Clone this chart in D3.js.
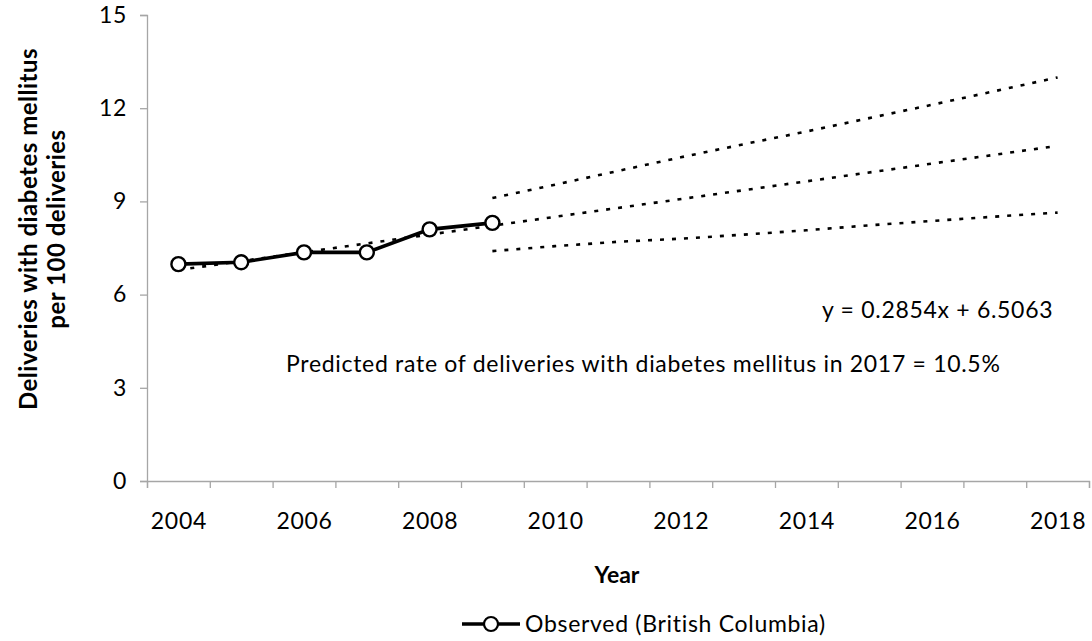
<!DOCTYPE html>
<html>
<head>
<meta charset="utf-8">
<script src="https://cdn.jsdelivr.net/npm/d3@7"></script>
<style>
  html, body { margin: 0; padding: 0; background: #fff; }
  svg { display: block; }
  text { font-family: Lato, "Open Sans", sans-serif; fill: #000; }
</style>
</head>
<body>
<svg id="chart" width="1092" height="641"></svg>
<script>
// ---- data ----
const observedYears = [2004, 2005, 2006, 2007, 2008, 2009];
const observedValues = [6.98, 7.04, 7.36, 7.36, 8.10, 8.31];

const forecastYears = [2009, 2010, 2011, 2012, 2013, 2014, 2015, 2016, 2017, 2018];
const upperValues = [9.11, 9.54, 9.98, 10.42, 10.84, 11.25, 11.68, 12.11, 12.55, 12.99];
const lowerValues = [7.40, 7.56, 7.70, 7.80, 7.93, 8.07, 8.23, 8.37, 8.51, 8.64];

const trendSlope = 0.2854;
const trendIntercept = 6.5063;
const trendYears = [2004, 2018];

const yTicks = [0, 3, 6, 9, 12, 15];
const xLabelYears = [2004, 2006, 2008, 2010, 2012, 2014, 2016, 2018];

const yTitleLines = ["Deliveries with diabetes mellitus", "per 100 deliveries"];
const xTitle = "Year";
const equationText = "y = 0.2854x + 6.5063";
const predictionText = "Predicted rate of deliveries with diabetes mellitus in 2017 = 10.5%";
const legendLabel = "Observed (British Columbia)";

// ---- layout ----
const svg = d3.select("#chart");
const plot = { left: 147, right: 1089, top: 15, bottom: 481 };
const axisColor = "#a6a6a6";
const fontSize = 23;
const spacing = 0.7;

const x = d3.scaleLinear().domain([2003.5, 2018.5]).range([plot.left, plot.right]);
const y = d3.scaleLinear().domain([0, 15]).range([plot.bottom, plot.top]);

// y axis
const yAxis = svg.append("g")
  .attr("transform", `translate(${plot.left},0)`)
  .call(d3.axisLeft(y).tickValues(yTicks).tickSize(7).tickPadding(13).tickFormat(d3.format("d")));
yAxis.select(".domain").attr("stroke", axisColor).attr("stroke-width", 1.3);
yAxis.selectAll(".tick line").attr("stroke", axisColor).attr("stroke-width", 1.3);
yAxis.selectAll(".tick text").attr("font-size", fontSize).attr("font-family", "Lato, sans-serif")
  .attr("fill", "#000").attr("letter-spacing", spacing);

// x axis: ticks on category boundaries
const boundaries = d3.range(2003.5, 2019, 1);
const xAxis = svg.append("g")
  .attr("transform", `translate(0,${plot.bottom})`)
  .call(d3.axisBottom(x).tickValues(boundaries).tickSize(7).tickFormat(""));
xAxis.select(".domain").attr("stroke", axisColor).attr("stroke-width", 1.3);
xAxis.selectAll(".tick line").attr("stroke", axisColor).attr("stroke-width", 1.3);

const xLabels = svg.append("g")
  .attr("transform", `translate(0,${plot.bottom})`)
  .call(d3.axisBottom(x).tickValues(xLabelYears).tickSize(0).tickPadding(32).tickFormat(d3.format("d")));
xLabels.select(".domain").remove();
xLabels.selectAll(".tick text").attr("font-size", fontSize).attr("font-family", "Lato, sans-serif")
  .attr("fill", "#000").attr("letter-spacing", spacing);

// dotted lines
const line = d3.line().x(d => x(d[0])).y(d => y(d[1]));
function dottedPath(pts) {
  svg.append("path")
    .attr("d", line(pts))
    .attr("fill", "none")
    .attr("stroke", "#000")
    .attr("stroke-width", 2.6)
    .attr("stroke-dasharray", "4,8");
}

const trendPts = trendYears.map(yr => [yr, trendSlope * (yr - 2003) + trendIntercept]);
dottedPath(trendPts);
dottedPath(forecastYears.map((yr, i) => [yr, upperValues[i]]));
dottedPath(forecastYears.map((yr, i) => [yr, lowerValues[i]]));

// observed line
const obsPts = observedYears.map((yr, i) => [yr, observedValues[i]]);
svg.append("path")
  .attr("d", line(obsPts))
  .attr("fill", "none")
  .attr("stroke", "#000")
  .attr("stroke-width", 3.6);
svg.append("g").selectAll("circle").data(obsPts).join("circle")
  .attr("cx", d => x(d[0])).attr("cy", d => y(d[1]))
  .attr("r", 7).attr("fill", "#fff").attr("stroke", "#000").attr("stroke-width", 2.4);

// annotations
svg.append("text").attr("x", 822).attr("y", 318)
  .attr("font-size", fontSize).attr("letter-spacing", spacing).text(equationText);
svg.append("text").attr("x", 286).attr("y", 372)
  .attr("font-size", fontSize).attr("letter-spacing", spacing).text(predictionText);

// y title
const yt = svg.append("text")
  .attr("transform", "translate(0,229) rotate(-90)")
  .attr("text-anchor", "middle")
  .attr("font-size", 24)
  .attr("font-weight", "bold")
  .attr("letter-spacing", 0.5);
yt.append("tspan").attr("x", 0).attr("y", 37).text(yTitleLines[0]);
yt.append("tspan").attr("x", 0).attr("y", 65).text(yTitleLines[1]);

// x title
svg.append("text").attr("x", 617).attr("y", 583).attr("text-anchor", "middle")
  .attr("font-size", fontSize).attr("font-weight", "bold").text(xTitle);

// legend
const lg = svg.append("g");
lg.append("line").attr("x1", 462).attr("x2", 520).attr("y1", 624).attr("y2", 624)
  .attr("stroke", "#000").attr("stroke-width", 3.4);
lg.append("circle").attr("cx", 491).attr("cy", 624).attr("r", 7)
  .attr("fill", "#fff").attr("stroke", "#000").attr("stroke-width", 2.2);
lg.append("text").attr("x", 525).attr("y", 632).attr("font-size", fontSize)
  .attr("letter-spacing", spacing).text(legendLabel);
</script>
</body>
</html>
